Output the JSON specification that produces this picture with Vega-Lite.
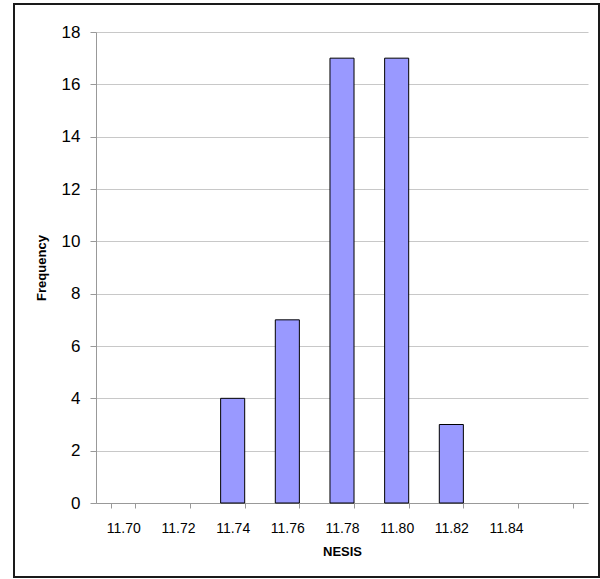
{
  "$schema": "https://vega.github.io/schema/vega-lite/v6.json",
  "autosize": "none",
  "padding": {"left": 14, "top": 4, "right": 1, "bottom": 2},
  "width": 585,
  "height": 573,
  "background": "white",
  "config": {
    "view": {"stroke": "#1a1a1a", "strokeWidth": 2},
    "font": "Liberation Sans"
  },
  "data": {
    "values": [
      {"bin": "11.70", "count": 0},
      {"bin": "11.72", "count": 0},
      {"bin": "11.74", "count": 4},
      {"bin": "11.76", "count": 7},
      {"bin": "11.78", "count": 17},
      {"bin": "11.80", "count": 17},
      {"bin": "11.82", "count": 3},
      {"bin": "11.84", "count": 0},
      {"bin": " ", "count": 0}
    ]
  },
  "mark": {"type": "bar", "color": "#9999ff", "stroke": "#000000", "strokeWidth": 1},
  "encoding": {
    "x": {
      "field": "bin",
      "type": "nominal",
      "sort": null,
      "title": "NESIS",
      "scale": {"range": [82, 574], "paddingInner": 0.56, "paddingOuter": 0.28},
      "axis": {
        "offset": -74,
        "labelAngle": 0,
        "tickBand": "extent",
        "grid": false,
        "domainColor": "#999999",
        "tickColor": "#999999",
        "tickSize": 5,
        "labelPadding": 13,
        "labelFontSize": 14,
        "labelColor": "#000000",
        "titleFontSize": 13,
        "titleFontWeight": "bold",
        "titleColor": "#000000",
        "titlePadding": 10
      }
    },
    "y": {
      "field": "count",
      "type": "quantitative",
      "title": "Frequency",
      "scale": {"domain": [0, 18], "range": [499, 28], "nice": false},
      "axis": {
        "offset": -82,
        "values": [0, 2, 4, 6, 8, 10, 12, 14, 16, 18],
        "gridColor": "#c8c8c8",
        "domainColor": "#999999",
        "tickColor": "#999999",
        "tickSize": 6,
        "labelPadding": 10,
        "labelFontSize": 17,
        "labelColor": "#000000",
        "titleFontSize": 13,
        "titleFontWeight": "bold",
        "titleColor": "#000000",
        "titlePadding": 13
      }
    },
    "strokeOpacity": {
      "condition": {"test": "datum.count === 0", "value": 0},
      "value": 1
    }
  }
}
